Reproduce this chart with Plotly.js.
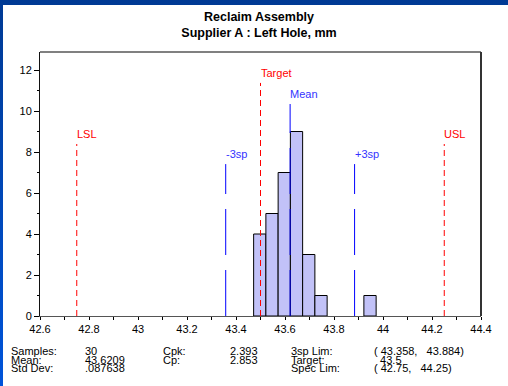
<!DOCTYPE html>
<html>
<head>
<meta charset="utf-8">
<script src="https://cdn.plot.ly/plotly-3.0.1.min.js"></script>
<style>
  html, body { margin: 0; padding: 0; }
  body { width: 508px; height: 386px; overflow: hidden; position: relative;
         background: linear-gradient(to bottom, #003a94, #0054da); }
  #chart { position: absolute; left: 3px; top: 5px; width: 505px; height: 381px; background: #fff; }
</style>
</head>
<body>
<div id="chart"></div>
<script>
// Histogram bins (left edge of each bin) and their counts
const binLeft = [43.472, 43.522, 43.572, 43.622, 43.672, 43.722, 43.922];
const binCounts = [4, 5, 7, 9, 3, 1, 1];
const binWidth = 0.05;

// Process summary
const samples = 30;
const meanValue = 43.6209;
const stdDev = 0.087638;
const cpk = 2.393;
const cp = 2.853;
const threeSpLim = [43.358, 43.884];
const targetValue = 43.5;
const specLim = [42.75, 44.25];

// Axis ticks
const xTicks = [42.6, 42.8, 43, 43.2, 43.4, 43.6, 43.8, 44, 44.2, 44.4];
const yTicks = [0, 2, 4, 6, 8, 10, 12];

const FONT = '"Liberation Sans", Arial, Helvetica, sans-serif';
const RED = '#ff0000';
const BLUE = '#0000ff';
const BLUE_TXT = '#3333ff';

const bars = {
  type: 'bar',
  x: binLeft,
  y: binCounts,
  offset: 0,
  width: binLeft.map(() => binWidth),
  marker: { color: '#c2c2f8', line: { color: '#000000', width: 1 } },
  hoverinfo: 'x+y'
};

// Vertical reference lines: value, top (in count units), colour, dash, label
const refLines = [
  { x: specLim[0], top: 8.39, color: RED, dash: '6px,4px', label: 'LSL', tcolor: RED },
  { x: specLim[1], top: 8.39, color: RED, dash: '6px,4px', label: 'USL', tcolor: RED },
  { x: targetValue, top: 11.37, color: RED, dash: '6px,4px', label: 'Target', tcolor: RED },
  { x: threeSpLim[0], top: 7.41, color: BLUE, dash: '46px,15px', label: '-3sp', tcolor: BLUE_TXT },
  { x: threeSpLim[1], top: 7.41, color: BLUE, dash: '46px,15px', label: '+3sp', tcolor: BLUE_TXT },
  { x: meanValue, top: 10.34, color: BLUE, dash: '46px,15px', label: 'Mean', tcolor: BLUE_TXT }
];

const shapes = refLines.map(r => ({
  type: 'line', xref: 'x', yref: 'y',
  x0: r.x, x1: r.x, y0: 0, y1: r.top,
  line: { color: r.color, width: 1, dash: r.dash }
}));
// frame: top and right edges
shapes.push({ type: 'line', xref: 'paper', yref: 'paper', x0: 0, x1: 1, y0: 1, y1: 1,
  line: { color: '#808080', width: 2 } });
shapes.push({ type: 'line', xref: 'paper', yref: 'paper', x0: 1, x1: 1, y0: 0, y1: 1,
  line: { color: '#333333', width: 2 } });

const annotations = refLines.map(r => ({
  x: r.x, y: r.top, xref: 'x', yref: 'y',
  text: r.label, showarrow: false,
  xanchor: 'left', yanchor: 'bottom', xshift: -2, yshift: 2,
  font: { family: FONT, size: 11, color: r.tcolor }
}));

// Summary table under the axis
const NB = '\u00a0';
const fmtStd = v => String(v).replace(/^0/, '');
const statCols = [
  { px: 9, rows: ['Samples:', 'Mean:', 'Std Dev:'] },
  { px: 83, rows: [String(samples), String(meanValue), fmtStd(stdDev)] },
  { px: 161, rows: ['Cpk:', 'Cp:', ''] },
  { px: 228, rows: [cpk.toFixed(3), cp.toFixed(3), ''] },
  { px: 289, rows: ['3sp Lim:', 'Target:', 'Spec Lim:'] },
  { px: 372, rows: [
      '(' + NB + threeSpLim[0] + ',' + NB + NB + NB + threeSpLim[1] + ')',
      NB + NB + targetValue,
      '(' + NB + specLim[0] + ',' + NB + NB + NB + specLim[1] + ')'
  ] }
];
const rowCenters = [351, 359.7, 368.4];
// plot area spans page x 40..481, y 52..316
const pxToPaperX = px => (px - 40) / 441;
const pyToPaperY = py => (316 - py) / 264;
statCols.forEach(col => {
  col.rows.forEach((t, i) => {
    if (!t) return;
    annotations.push({
      xref: 'paper', yref: 'paper',
      x: pxToPaperX(col.px), y: pyToPaperY(rowCenters[i]),
      xanchor: 'left', yanchor: 'middle', showarrow: false,
      text: t, font: { family: FONT, size: 11, color: '#000' }
    });
  });
});

const layout = {
  width: 505, height: 381,
  margin: { l: 37, r: 27, t: 47, b: 70 },
  paper_bgcolor: '#ffffff', plot_bgcolor: '#ffffff',
  showlegend: false,
  title: {
    text: '<b>Reclaim Assembly</b><br><b>Supplier A : Left Hole, mm</b>',
    x: 256 / 505, xref: 'container', xanchor: 'center',
    y: 1 - 16 / 381, yref: 'container', yanchor: 'top',
    font: { family: FONT, size: 12.5, color: '#000' }
  },
  xaxis: {
    range: [42.6, 44.4], tickvals: xTicks, ticktext: xTicks.map(String),
    ticks: 'outside', ticklen: 3, tickcolor: '#000', tickwidth: 1,
    minor: { dtick: 0.1, tick0: 42.6, ticks: 'outside', ticklen: 3, tickcolor: '#000' },
    showline: true, linecolor: '#555', linewidth: 1,
    showgrid: false, zeroline: false, fixedrange: true,
    tickfont: { family: FONT, size: 11, color: '#000' }
  },
  yaxis: {
    range: [0, 12.878], tickvals: yTicks, ticktext: yTicks.map(String),
    ticks: 'outside', ticklen: 5, tickcolor: '#000', tickwidth: 1,
    minor: { dtick: 1, tick0: 1, ticks: 'outside', ticklen: 2, tickcolor: '#000' },
    showline: true, linecolor: '#111', linewidth: 1,
    showgrid: false, zeroline: false, fixedrange: true,
    tickfont: { family: FONT, size: 11, color: '#000' }
  },
  shapes: shapes,
  annotations: annotations,
  bargap: 0
};

Plotly.newPlot('chart', [bars], layout, { displayModeBar: false, staticPlot: true });
</script>
</body>
</html>
